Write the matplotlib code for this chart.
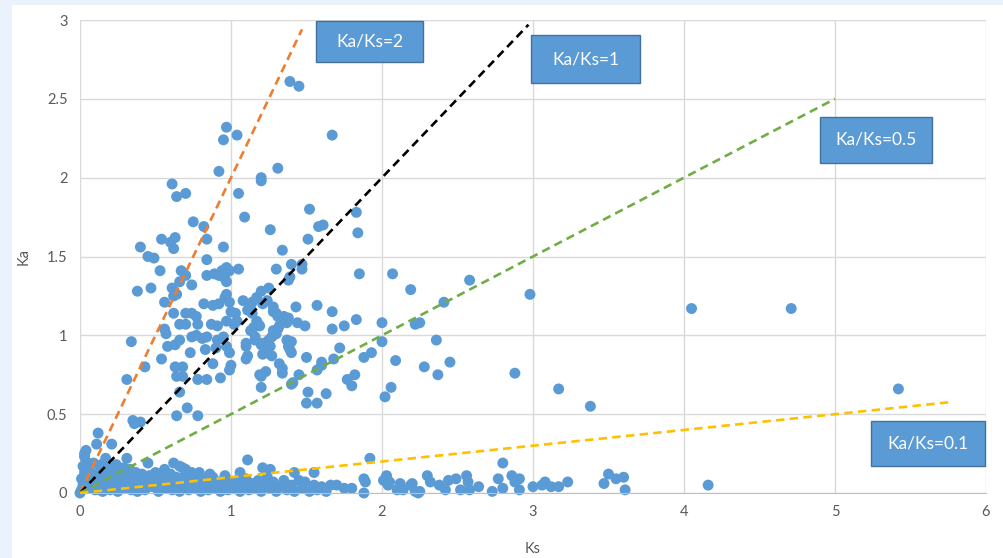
import matplotlib
matplotlib.use("Agg")
import matplotlib.pyplot as plt
from matplotlib.patches import Rectangle

plt.rcParams['font.family'] = ['Lato', 'DejaVu Sans']

# (Ks, Ka) pairs of gene pairs, grouped by Ka band
high_pairs = [
    (1.39, 2.61), (1.45, 2.58), (0.97, 2.32), (0.95, 2.24), (1.04, 2.27), (1.67, 2.27),
    (0.92, 2.04), (1.20, 2.00), (1.20, 1.98), (1.31, 2.06), (0.61, 1.96), (0.64, 1.88),
    (0.70, 1.90), (1.05, 1.90), (0.75, 1.72), (0.82, 1.69), (0.84, 1.61), (1.09, 1.75),
    (1.26, 1.67), (1.52, 1.80), (1.61, 1.70), (1.58, 1.69), (1.83, 1.78), (1.84, 1.65),
    (1.51, 1.61), (1.34, 1.54), (0.40, 1.56), (0.54, 1.61), (0.60, 1.59), (0.63, 1.62),
    (0.62, 1.55), (0.95, 1.56),
]

mid_high_pairs = [
    (0.45, 1.50), (0.49, 1.49), (0.84, 1.48), (1.05, 1.42), (1.30, 1.42), (1.40, 1.45),
    (1.47, 1.45), (1.47, 1.42), (1.39, 1.37), (1.85, 1.39), (2.07, 1.39), (1.25, 1.30),
    (1.20, 1.28), (0.53, 1.41), (0.67, 1.41), (0.70, 1.38), (0.84, 1.38), (0.92, 1.38),
    (0.94, 1.41), (0.97, 1.43), (0.96, 1.36), (0.97, 1.34), (0.66, 1.34), (0.74, 1.32),
    (0.38, 1.28), (0.47, 1.30), (0.61, 1.30), (0.89, 1.39), (0.99, 1.41), (0.64, 1.26),
    (0.62, 1.25), (0.82, 1.20), (0.88, 1.19), (0.92, 1.20), (0.97, 1.26), (0.96, 1.24),
    (0.99, 1.21), (1.08, 1.22), (1.14, 1.21), (1.17, 1.24), (1.57, 1.19), (1.43, 1.18),
    (0.56, 1.21), (0.62, 1.14), (0.70, 1.14), (0.74, 1.14), (0.77, 1.12), (0.66, 1.07),
    (0.70, 1.07), (0.78, 1.07), (0.87, 1.07), (0.91, 1.06), (0.97, 1.09), (1.00, 1.15),
    (1.04, 1.09), (1.14, 1.14), (1.17, 1.09), (1.19, 1.06), (1.28, 1.15), (1.31, 1.12),
    (1.35, 1.12), (1.37, 1.08), (1.32, 1.06), (1.44, 1.08), (1.49, 1.06), (1.67, 1.15),
    (1.67, 1.04), (1.75, 1.06), (1.83, 1.10), (2.00, 1.08), (1.38, 1.35), (1.13, 1.19),
    (1.11, 1.16), (1.24, 1.22), (1.21, 1.20), (1.28, 1.18), (1.38, 1.11), (1.30, 1.14),
    (1.18, 1.07), (1.15, 1.05), (1.13, 1.03), (1.03, 1.14), (1.02, 1.07), (1.28, 1.03),
    (1.30, 1.01), (0.56, 1.04), (0.57, 1.01),
    (2.19, 1.29), (2.58, 1.35), (2.41, 1.21), (2.98, 1.26), (4.05, 1.17), (4.71, 1.17),
    (2.22, 1.07), (2.25, 1.08),
]

mid_pairs = [
    (0.34, 0.96), (0.54, 0.85), (0.58, 0.93), (0.63, 0.94), (0.66, 0.97), (0.73, 0.89),
    (0.74, 0.99), (0.77, 1.00), (0.81, 0.98), (0.84, 0.99), (0.91, 0.97), (0.95, 0.99),
    (0.83, 0.91), (0.90, 0.92), (0.97, 0.93), (0.99, 0.89), (1.10, 0.93), (1.11, 0.87),
    (1.16, 0.97), (1.21, 0.95), (1.25, 0.97), (1.28, 1.00), (1.31, 1.04), (1.21, 0.88),
    (1.27, 0.87), (1.37, 0.97), (1.39, 0.91), (1.50, 0.86), (1.57, 0.78), (1.60, 0.81),
    (1.72, 0.92), (1.68, 0.85), (1.88, 0.86), (1.93, 0.89), (2.00, 0.96), (2.09, 0.84),
    (0.43, 0.80), (0.63, 0.80), (0.68, 0.80), (0.64, 0.74), (0.68, 0.74), (0.66, 0.64),
    (0.78, 0.72), (0.84, 0.72), (0.88, 0.82), (0.93, 0.73), (1.00, 0.81), (0.99, 0.78),
    (1.19, 0.75), (1.20, 0.67), (1.32, 0.82), (1.34, 0.76), (1.40, 0.69), (1.51, 0.64),
    (1.50, 0.57), (1.57, 0.57), (1.63, 0.63), (1.77, 0.72), (1.80, 0.68), (1.82, 0.75),
    (2.02, 0.61), (2.06, 0.67), (0.31, 0.72), (0.64, 0.49), (0.71, 0.54), (0.78, 0.49),
    (2.36, 0.97), (2.28, 0.80), (2.37, 0.75), (2.45, 0.83), (2.88, 0.76), (3.17, 0.66),
    (3.38, 0.55), (5.42, 0.66),
    (1.27, 0.99), (1.20, 0.94), (1.16, 0.99), (1.10, 0.95), (1.10, 0.85), (1.40, 0.96),
    (1.38, 0.93), (1.40, 0.89), (1.26, 0.93), (1.24, 0.89), (1.34, 0.79), (1.23, 0.77),
    (1.20, 0.74), (1.45, 0.75), (1.41, 0.70), (1.60, 0.83),
]

low_mid_pairs = [
    (0.35, 0.46), (0.40, 0.45), (0.36, 0.44), (0.12, 0.38), (0.11, 0.31), (0.21, 0.31),
    (0.04, 0.27), (0.03, 0.23), (0.17, 0.22), (0.31, 0.22), (0.62, 0.19), (0.66, 0.17),
    (0.79, 0.13), (1.11, 0.21), (1.21, 0.16), (1.26, 0.15), (1.42, 0.13), (1.92, 0.22),
    (0.45, 0.19), (1.06, 0.13), (1.55, 0.13), (2.80, 0.19), (3.50, 0.12), (4.16, 0.05),
]

origin_pairs = [
    (0.00, 0.00), (0.01, 0.02), (0.02, 0.05), (0.01, 0.09), (0.03, 0.13), (0.02, 0.17),
    (0.04, 0.20), (0.03, 0.25), (0.06, 0.03), (0.07, 0.08), (0.08, 0.12), (0.06, 0.16),
    (0.09, 0.19), (0.10, 0.02), (0.12, 0.06), (0.11, 0.10), (0.13, 0.14), (0.14, 0.18),
    (0.15, 0.01), (0.16, 0.05), (0.17, 0.09), (0.18, 0.13), (0.19, 0.16), (0.20, 0.02),
    (0.21, 0.07), (0.22, 0.11), (0.23, 0.15), (0.24, 0.18), (0.25, 0.01), (0.26, 0.05),
    (0.27, 0.09), (0.28, 0.13), (0.29, 0.16), (0.30, 0.03), (0.31, 0.08), (0.32, 0.12),
    (0.33, 0.15), (0.34, 0.02), (0.35, 0.06), (0.36, 0.10), (0.37, 0.13), (0.38, 0.01),
    (0.39, 0.05), (0.40, 0.09), (0.41, 0.12), (0.04, 0.06), (0.05, 0.11), (0.09, 0.05),
    (0.13, 0.02), (0.19, 0.10), (0.24, 0.03), (0.29, 0.06),
]

band_pairs = [
    (0.43, 0.02), (0.44, 0.07), (0.46, 0.11), (0.48, 0.04), (0.50, 0.08), (0.52, 0.01),
    (0.53, 0.05), (0.55, 0.10), (0.57, 0.03), (0.58, 0.07), (0.60, 0.12), (0.61, 0.02),
    (0.63, 0.06), (0.64, 0.10), (0.66, 0.01), (0.67, 0.04), (0.69, 0.08), (0.70, 0.12),
    (0.72, 0.02), (0.73, 0.06), (0.75, 0.09), (0.77, 0.03), (0.78, 0.07), (0.80, 0.01),
    (0.82, 0.05), (0.83, 0.09), (0.85, 0.02), (0.87, 0.06), (0.88, 0.10), (0.90, 0.03),
    (0.92, 0.07), (0.93, 0.01), (0.95, 0.05), (0.97, 0.09), (0.98, 0.02), (1.00, 0.06),
    (1.02, 0.03), (1.04, 0.08), (0.70, 0.15), (0.74, 0.13), (0.68, 0.16), (0.86, 0.12),
    (0.96, 0.11), (0.50, 0.13), (0.56, 0.15),
    (1.06, 0.01), (1.08, 0.05), (1.10, 0.09), (1.12, 0.02), (1.14, 0.06), (1.16, 0.03),
    (1.18, 0.08), (1.20, 0.01), (1.22, 0.05), (1.24, 0.10), (1.26, 0.03), (1.28, 0.07),
    (1.30, 0.01), (1.32, 0.04), (1.35, 0.08), (1.37, 0.02), (1.40, 0.05), (1.42, 0.01),
    (1.45, 0.08), (1.47, 0.03), (1.49, 0.07), (1.52, 0.01), (1.55, 0.05), (1.57, 0.02),
    (1.60, 0.04), (1.63, 0.01), (1.66, 0.05), (1.70, 0.05), (1.75, 0.03), (1.80, 0.03),
    (1.88, 0.00), (1.88, 0.09), (1.89, 0.07),
]

tail_pairs = [
    (2.01, 0.08), (2.03, 0.11), (2.05, 0.07), (2.10, 0.02), (2.14, 0.02), (2.12, 0.06),
    (2.20, 0.06), (2.22, 0.01), (2.25, 0.01), (2.30, 0.11), (2.04, 0.05), (2.19, 0.05),
    (2.24, 0.00), (2.32, 0.07), (2.38, 0.05), (2.42, 0.02), (2.44, 0.08), (2.49, 0.09),
    (2.52, 0.02), (2.56, 0.11), (2.57, 0.07), (2.58, 0.02), (2.64, 0.04), (2.73, 0.01),
    (2.77, 0.09), (2.80, 0.03), (2.86, 0.11), (2.88, 0.07), (2.91, 0.09), (2.91, 0.02),
    (3.00, 0.04), (3.06, 0.05), (3.08, 0.07), (3.12, 0.04), (3.17, 0.04), (3.23, 0.07),
    (3.47, 0.06), (3.55, 0.09), (3.60, 0.10), (3.61, 0.02),
]

# Reference Ka/Ks ratio lines: slope, Ks where the line ends, colour
ratios = [2, 1, 0.5, 0.1]
ratio_end_ks = [1.47, 2.97, 5.0, 5.75]
ratio_colors = ['#ED7D31', '#000000', '#70AD47', '#FFC000']
ratio_labels = ['Ka/Ks=2', 'Ka/Ks=1', 'Ka/Ks=0.5', 'Ka/Ks=0.1']
# label box corners in figure pixels (left, top, right, bottom)
label_boxes = [(316, 21, 423, 62), (531, 35, 640, 83), (820, 117, 932, 163), (871, 421, 985, 466)]

x_ticks = [0, 1, 2, 3, 4, 5, 6]
y_ticks = [0, 0.5, 1, 1.5, 2, 2.5, 3]
y_tick_labels = ['0', '0.5', '1', '1.5', '2', '2.5', '3']

W, H = 1004, 558
fig = plt.figure(figsize=(W / 100, H / 100), dpi=100, facecolor='#EAF3FB')
# white panel behind the chart
fig.patches.append(Rectangle((12 / W, 0), 1 - 12 / W, 1 - 5 / H, transform=fig.transFigure,
                             facecolor='white', edgecolor='none', zorder=-10))

ax = fig.add_axes([80 / W, (H - 493) / H, (986 - 80) / W, (493 - 20) / H])
ax.set_facecolor('white')
ax.set_xlim(0, 6)
ax.set_ylim(0, 3)
ax.set_xticks(x_ticks)
ax.set_yticks(y_ticks)
ax.set_yticklabels(y_tick_labels)
ax.grid(True, color='#D9D9D9', linewidth=1.0, zorder=0)
ax.set_axisbelow(True)
for side in ['top', 'right', 'left']:
    ax.spines[side].set_visible(False)
ax.spines['bottom'].set_color('#BFBFBF')
ax.tick_params(length=0, labelsize=10.5, colors='#595959', pad=9)

all_pairs = (high_pairs + mid_high_pairs + mid_pairs + low_mid_pairs
             + origin_pairs + band_pairs + tail_pairs)
ks_vals = [p[0] for p in all_pairs]
ka_vals = [p[1] for p in all_pairs]
ax.scatter(ks_vals, ka_vals, s=62, color='#5B9BD5', edgecolors='none', zorder=2,
           clip_on=False)

for r, xe, c in zip(ratios, ratio_end_ks, ratio_colors):
    ax.plot([0, xe], [0, r * xe], color=c, linewidth=1.9, dashes=(3.2, 2.0), zorder=3)

ax.set_xlabel('Ks', fontsize=10.5, color='#595959', labelpad=16)
ax.set_ylabel('Ka', fontsize=10.5, color='#595959', labelpad=12)

for (l, t, r_, b), text in zip(label_boxes, ratio_labels):
    fig.patches.append(Rectangle((l / W, 1 - b / H), (r_ - l) / W, (b - t) / H,
                                 transform=fig.transFigure, facecolor='#5B9BD5',
                                 edgecolor='#41719C', linewidth=1.0, zorder=5))
    fig.text((l + r_) / 2 / W, 1 - (t + b) / 2 / H, text, color='white', fontsize=12.5,
             ha='center', va='center', zorder=6)

fig.savefig('out.png', dpi=100, facecolor=fig.get_facecolor())
